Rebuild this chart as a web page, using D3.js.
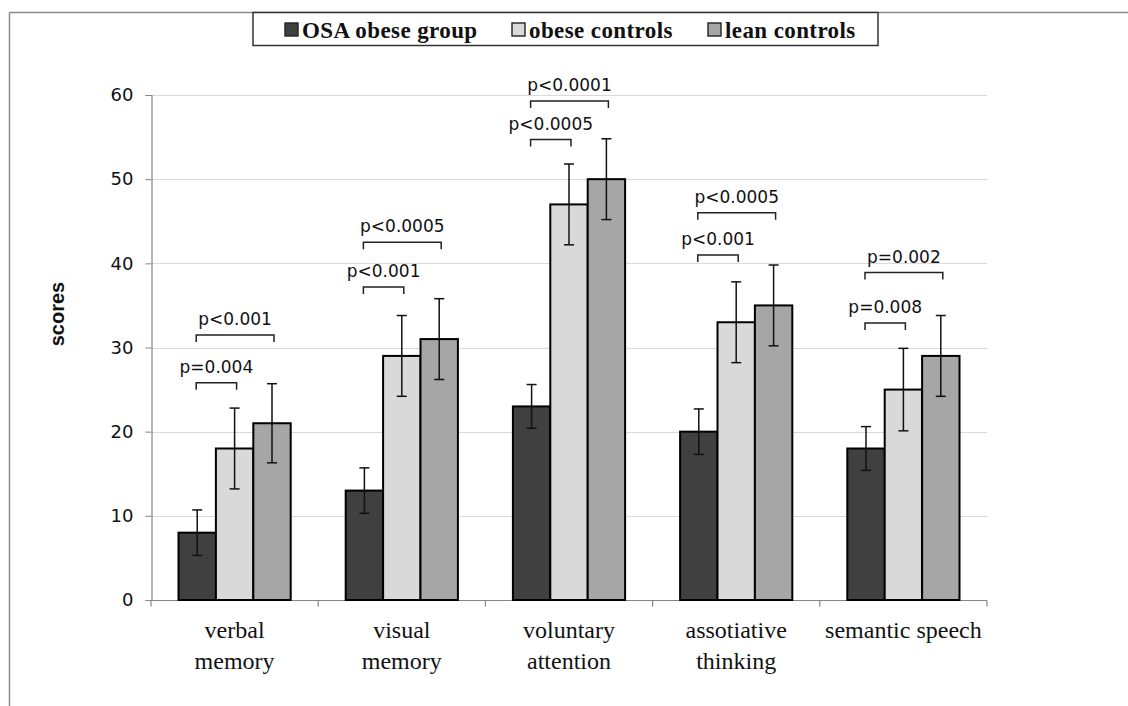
<!DOCTYPE html>
<html>
<head>
<meta charset="utf-8">
<script src="https://cdn.jsdelivr.net/npm/d3@7/dist/d3.min.js"></script>
<style>
  html, body { margin: 0; padding: 0; background: #fff; }
  svg { display: block; }
</style>
</head>
<body>
<svg id="chart" width="1128" height="706"></svg>
<script>
// ---------- data ----------
const categories = [["verbal", "memory"], ["visual", "memory"], ["voluntary", "attention"], ["assotiative", "thinking"], ["semantic speech"]];
const categoryKeys = ["verbal memory", "visual memory", "voluntary attention", "assotiative thinking", "semantic speech"];
const seriesNames = ["OSA obese group", "obese controls", "lean controls"];
const osaObese = [8, 13, 23, 20, 18];
const obeseControls = [18, 29, 47, 33, 25];
const leanControls = [21, 31, 50, 35, 29];
const osaErr = [2.7, 2.7, 2.6, 2.7, 2.6];
const obeseErr = [4.8, 4.8, 4.8, 4.8, 4.9];
const leanErr = [4.7, 4.8, 4.8, 4.8, 4.8];
const yTicks = [0, 10, 20, 30, 40, 50, 60];
const shortBracketY = [25.8, 37.2, 54.7, 41.0, 32.9];
const shortLabels = ["p=0.004", "p<0.001", "p<0.0005", "p<0.001", "p=0.008"];
const longBracketY = [31.5, 42.5, 59.3, 46.0, 38.9];
const longLabels = ["p<0.001", "p<0.0005", "p<0.0001", "p<0.0005", "p=0.002"];
const colors = ["#404040", "#d9d9d9", "#a6a6a6"];

const values = [osaObese, obeseControls, leanControls];
const errs = [osaErr, obeseErr, leanErr];

// ---------- layout ----------
const svg = d3.select("#chart");
const plotLeft = 151, plotRight = 987, plotTop = 95, plotBottom = 600;

const x0 = d3.scaleBand().domain(categoryKeys).range([plotLeft, plotRight]).padding(0);
const bw = x0.bandwidth();
const groupPad = 27.5;
const x1 = d3.scaleBand().domain(seriesNames).range([groupPad, bw - groupPad]).padding(0);
const y = d3.scaleLinear().domain([0, 60]).range([plotBottom, plotTop]);

// outer frame lines
svg.append("line").attr("x1", 9.5).attr("x2", 1128).attr("y1", 12.5).attr("y2", 12.5)
  .attr("stroke", "#8a8a8a").attr("stroke-width", 1.5);
svg.append("line").attr("x1", 9.5).attr("x2", 9.5).attr("y1", 12.5).attr("y2", 706)
  .attr("stroke", "#8a8a8a").attr("stroke-width", 1.5);

// gridlines
svg.append("g").selectAll("line").data(yTicks.filter(d => d > 0)).join("line")
  .attr("x1", plotLeft + 1).attr("x2", plotRight)
  .attr("y1", d => Math.round(y(d)) + 0.5).attr("y2", d => Math.round(y(d)) + 0.5)
  .attr("stroke", "#d9d9d9").attr("stroke-width", 1.2);

// y axis
const yAxis = d3.axisLeft(y).tickValues(yTicks).tickSize(6).tickPadding(12).tickFormat(d3.format("d"));
const gy = svg.append("g").attr("transform", `translate(${plotLeft + 0.5},0)`).call(yAxis);
gy.select(".domain").attr("stroke", "#868686").attr("stroke-width", 1.2);
gy.selectAll(".tick line").attr("stroke", "#868686");
gy.selectAll(".tick text").attr("font-family", "DejaVu Sans, Verdana, sans-serif")
  .attr("font-size", 18).attr("fill", "#111");

// x axis
const gx = svg.append("g").attr("transform", `translate(0,${plotBottom + 0.5})`);
gx.append("line").attr("x1", plotLeft).attr("x2", plotRight).attr("stroke", "#868686").attr("stroke-width", 1.2);
const boundaries = categoryKeys.map(c => x0(c)).concat([plotRight]);
gx.selectAll("line.tk").data(boundaries).join("line").attr("class", "tk")
  .attr("x1", d => d).attr("x2", d => d).attr("y1", 0).attr("y2", 6)
  .attr("stroke", "#868686").attr("stroke-width", 1.2);

// category labels
categories.forEach((lines, i) => {
  const cx = x0(categoryKeys[i]) + bw / 2;
  const t = svg.append("text").attr("x", cx).attr("y", 638)
    .attr("text-anchor", "middle")
    .attr("font-family", "Liberation Serif, Times New Roman, serif")
    .attr("font-size", 24).attr("fill", "#111");
  lines.forEach((ln, j) => {
    t.append("tspan").attr("x", cx).attr("dy", j === 0 ? 0 : 31).text(ln);
  });
});

// bars
const groups = svg.append("g").selectAll("g").data(categoryKeys).join("g")
  .attr("transform", d => `translate(${x0(d)},0)`);

seriesNames.forEach((s, si) => {
  groups.append("rect")
    .attr("x", (d, i) => x1(s))
    .attr("y", (d, i) => y(values[si][i]))
    .attr("width", x1.bandwidth())
    .attr("height", (d, i) => y(0) - y(values[si][i]))
    .attr("fill", colors[si])
    .attr("stroke", "#000").attr("stroke-width", 2);
});

// error bars
seriesNames.forEach((s, si) => {
  const cxf = () => x1(s) + x1.bandwidth() / 2;
  groups.append("line")
    .attr("x1", cxf).attr("x2", cxf)
    .attr("y1", (d, i) => y(values[si][i] + errs[si][i]))
    .attr("y2", (d, i) => y(values[si][i] - errs[si][i]))
    .attr("stroke", "#111").attr("stroke-width", 1.5);
  [1, -1].forEach(sign => {
    groups.append("line")
      .attr("x1", () => cxf() - 5).attr("x2", () => cxf() + 5)
      .attr("y1", (d, i) => y(values[si][i] + sign * errs[si][i]))
      .attr("y2", (d, i) => y(values[si][i] + sign * errs[si][i]))
      .attr("stroke", "#111").attr("stroke-width", 1.5);
  });
});

// significance brackets
function bracket(g, fromSeries, toSeries, yv, label) {
  const xa = x1(fromSeries) + x1.bandwidth() / 2 - 1;
  const xb = x1(toSeries) + x1.bandwidth() / 2 + 2;
  const yy = y(yv);
  g.append("path")
    .attr("d", `M${xa},${yy + 7}V${yy}H${xb}V${yy + 7}`)
    .attr("fill", "none").attr("stroke", "#222").attr("stroke-width", 1.5);
  g.append("text").attr("x", (xa + xb) / 2).attr("y", yy - 10)
    .attr("text-anchor", "middle")
    .attr("font-family", "DejaVu Sans, Verdana, sans-serif")
    .attr("font-size", 17).attr("fill", "#111").text(label);
}
groups.each(function (d, i) {
  const g = d3.select(this);
  bracket(g, seriesNames[0], seriesNames[1], shortBracketY[i], shortLabels[i]);
  bracket(g, seriesNames[0], seriesNames[2], longBracketY[i], longLabels[i]);
});

// y axis title
svg.append("text").attr("transform", "translate(64,314) rotate(-90)")
  .attr("text-anchor", "middle")
  .attr("font-family", "Liberation Sans, Arial, sans-serif")
  .attr("font-weight", "bold").attr("font-size", 20).attr("fill", "#111").text("scores");

// legend
const legend = svg.append("g");
legend.append("rect").attr("x", 253).attr("y", 12.5).attr("width", 625).attr("height", 33)
  .attr("fill", "#fff").attr("stroke", "#333").attr("stroke-width", 1.5);
const legendX = [285, 512, 708];
seriesNames.forEach((s, si) => {
  const lg = legend.append("g").attr("transform", `translate(${legendX[si]},0)`);
  lg.append("rect").attr("x", 0).attr("y", 23).attr("width", 13).attr("height", 13)
    .attr("fill", colors[si]).attr("stroke", "#222").attr("stroke-width", 1.4);
  lg.append("text").attr("x", 17).attr("y", 38)
    .attr("font-family", "Liberation Serif, Times New Roman, serif")
    .attr("font-weight", "bold").attr("font-size", 23).attr("letter-spacing", 0.4)
    .attr("fill", "#111").text(s);
});
</script>
</body>
</html>
